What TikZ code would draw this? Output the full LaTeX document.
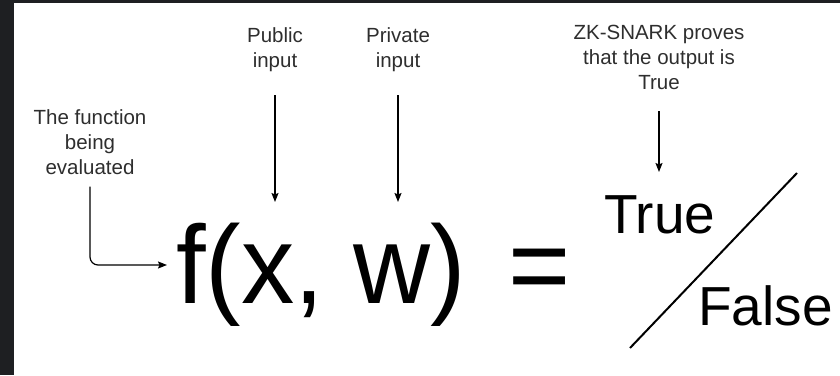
\documentclass[tikz,border=0pt]{standalone}
\usepackage{fontspec}
\setmainfont{Liberation Sans}
\newfontfamily\narrowsans[FakeStretch=0.96]{Liberation Sans}
\usetikzlibrary{arrows.meta}
\definecolor{darkframe}{HTML}{1E1F22}
\definecolor{notegray}{HTML}{2E2E2E}
\tikzset{
  note/.style={align=center,inner sep=0pt,text=notegray,font=\fontsize{20.5}{25}\selectfont},
  big/.style={inner sep=0pt,anchor=base west,font=\narrowsans\fontsize{111}{130}\selectfont},
  answer/.style={inner sep=0pt,anchor=base west,font=\fontsize{55}{66}\selectfont},
  pointer/.style={-{Stealth[length=9pt,width=7pt,inset=1.5pt]},line width=1.2pt},
}
\begin{document}
\begin{tikzpicture}[x=1pt,y=-1pt]
\useasboundingbox (0,0) rectangle (840,375);
\fill[darkframe] (0,0) rectangle (840,375);
\fill[white] (14,3) rectangle (840,375);
% the formula
\node[big] (fxw) at (176,303) {f(x, w)};
\node[big] (eq) at (508,303) {=};
\node[answer] (tru) at (604,233) {True};
\node[answer] (fls) at (698,325) {False};
\draw[line width=2pt] (630,348) -- (797,173);
% labels
\node[note] (func) at (90,142) {The function\\being\\evaluated};
\node[note] (pub) at (275,50) {Public\\input};
\node[note] (priv) at (398,50) {Private\\input};
\node[note] (zk) at (659,57) {ZK-SNARK proves\\that the output is\\True};
\coordinate (fxin) at (167,265);
\coordinate (pubtip) at (275,202);
\coordinate (privtip) at (398,202);
\coordinate (truetip) at (659,172);
\draw[pointer,rounded corners=8pt,shorten <=12pt] (func.south) |- (fxin);
\draw[pointer,shorten <=23pt] (pub.south) -- (pubtip);
\draw[pointer,shorten <=23pt] (priv.south) -- (privtip);
\draw[pointer,shorten <=22pt] (zk.south) -- (truetip);
\end{tikzpicture}
\end{document}
